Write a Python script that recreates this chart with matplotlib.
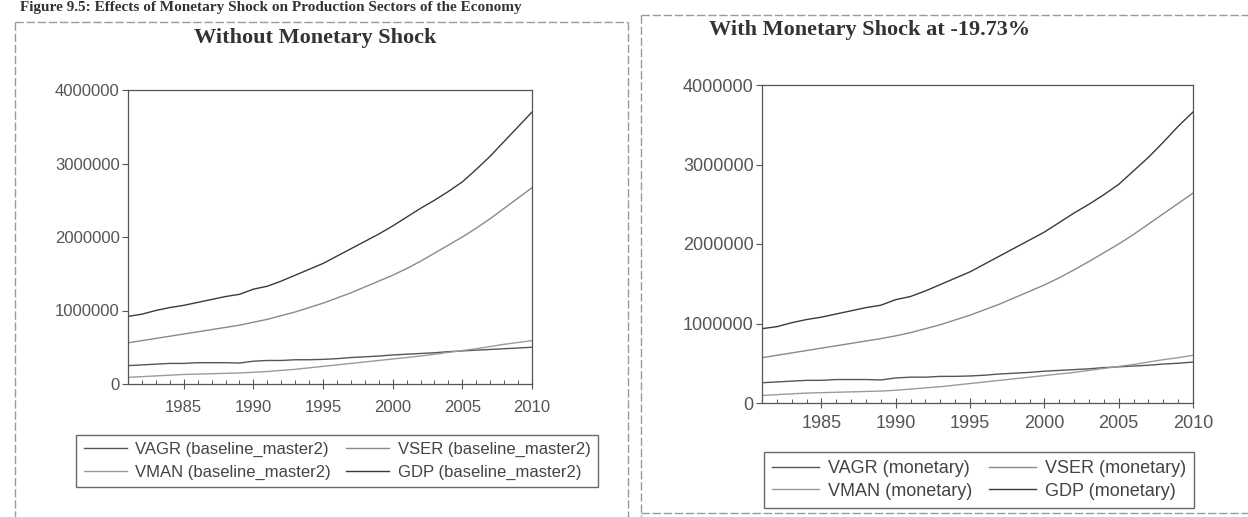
import numpy as np
import matplotlib
matplotlib.use('Agg')
import matplotlib.pyplot as plt
from matplotlib.lines import Line2D
from matplotlib.ticker import MultipleLocator

plt.rcParams['font.family'] = ['Liberation Sans', 'DejaVu Sans']

years = list(range(1981, 2011))

# baseline (without monetary shock)
vagr_base = [250000, 260000, 270000, 280000, 280000, 290000, 290000, 290000, 285000, 310000,
             320000, 320000, 330000, 330000, 335000, 345000, 360000, 370000, 380000, 395000,
             405000, 415000, 425000, 440000, 450000, 460000, 470000, 480000, 490000, 500000]
vman_base = [90000, 100000, 110000, 120000, 130000, 135000, 140000, 145000, 150000, 160000,
             170000, 185000, 200000, 220000, 240000, 260000, 280000, 300000, 320000, 340000,
             360000, 380000, 405000, 430000, 455000, 480000, 510000, 540000, 565000, 590000]
vser_base = [560000, 590000, 620000, 650000, 680000, 710000, 740000, 770000, 800000, 840000,
             880000, 930000, 980000, 1040000, 1100000, 1170000, 1240000, 1320000, 1400000, 1480000,
             1570000, 1670000, 1780000, 1890000, 2000000, 2120000, 2250000, 2390000, 2530000, 2670000]
gdp_base = [920000, 950000, 1000000, 1040000, 1070000, 1110000, 1150000, 1190000, 1220000, 1290000,
            1330000, 1400000, 1480000, 1560000, 1640000, 1740000, 1840000, 1940000, 2040000, 2150000,
            2270000, 2390000, 2500000, 2620000, 2750000, 2920000, 3100000, 3300000, 3500000, 3700000]

# with monetary shock at -19.73%
vagr_mon = [255000, 265000, 275000, 285000, 285000, 295000, 295000, 295000, 290000, 315000,
            325000, 325000, 335000, 335000, 340000, 350000, 365000, 375000, 385000, 400000,
            410000, 420000, 430000, 445000, 455000, 465000, 475000, 490000, 500000, 515000]
vman_mon = [95000, 105000, 115000, 125000, 130000, 135000, 140000, 145000, 150000, 160000,
            175000, 190000, 205000, 225000, 245000, 265000, 285000, 305000, 325000, 345000,
            365000, 385000, 410000, 435000, 460000, 485000, 515000, 545000, 570000, 600000]
vser_mon = [570000, 600000, 630000, 660000, 690000, 720000, 750000, 780000, 810000, 845000,
            885000, 935000, 985000, 1045000, 1105000, 1175000, 1245000, 1325000, 1405000, 1485000,
            1575000, 1675000, 1780000, 1890000, 2000000, 2120000, 2250000, 2380000, 2510000, 2640000]
gdp_mon = [935000, 960000, 1010000, 1050000, 1080000, 1120000, 1160000, 1200000, 1230000, 1300000,
           1340000, 1410000, 1490000, 1570000, 1650000, 1750000, 1850000, 1950000, 2050000, 2150000,
           2270000, 2390000, 2500000, 2620000, 2750000, 2920000, 3090000, 3280000, 3480000, 3660000]

series_names = ['VAGR', 'VMAN', 'VSER', 'GDP']
colors = ['#555555', '#9a9a9a', '#8a8a8a', '#3a3a3a']

W, H = 1248, 517
fig = plt.figure(figsize=(W / 100, H / 100), dpi=100)
fig.patch.set_facecolor('white')


def px_axes(x0, y0, x1, y1):
    return fig.add_axes([x0 / W, 1 - y1 / H, (x1 - x0) / W, (y1 - y0) / H])


def draw_panel(ax, data, tag, fs, xpad):
    handles = []
    for vals, name, c in zip(data, series_names, colors):
        h, = ax.plot(years, vals, color=c, lw=1.0, label='%s (%s)' % (name, tag))
        handles.append(h)
    ax.set_xlim(1981, 2010)
    ax.set_ylim(0, 4000000)
    ax.set_yticks([0, 1000000, 2000000, 3000000, 4000000])
    ax.set_yticklabels(['0', '1000000', '2000000', '3000000', '4000000'])
    ax.set_xticks([1985, 1990, 1995, 2000, 2005, 2010])
    ax.xaxis.set_minor_locator(MultipleLocator(1))
    ax.tick_params(axis='x', which='major', direction='inout', length=7, width=0.8,
                   colors='#555555', labelcolor='#555555', labelsize=fs, pad=xpad)
    ax.tick_params(axis='x', which='minor', direction='in', length=3, width=0.7, colors='#555555')
    ax.tick_params(axis='y', direction='out', length=4, width=0.8, colors='#555555',
                   labelcolor='#555555', labelsize=fs, pad=2)
    for s in ax.spines.values():
        s.set_color('#555555')
        s.set_linewidth(0.9)
    return handles


ax1 = px_axes(128, 90, 532, 384)
h1 = draw_panel(ax1, [vagr_base, vman_base, vser_base, gdp_base], 'baseline_master2', 12, 8)
ax2 = px_axes(762, 85, 1193, 403)
h2 = draw_panel(ax2, [vagr_mon, vman_mon, vser_mon, gdp_mon], 'monetary', 13, 5)

leg_kw = dict(ncol=2, loc='center', frameon=True, fancybox=False, handlelength=2.6,
              handletextpad=0.5, columnspacing=0.9, borderpad=0.45,
              labelcolor='#444444')
l1 = fig.legend(handles=h1, bbox_to_anchor=(337 / W, 1 - 461 / H), fontsize=12,
                labelspacing=0.45, **leg_kw)
l2 = fig.legend(handles=h2, bbox_to_anchor=(979 / W, 1 - 480 / H), fontsize=13,
                labelspacing=0.3, **leg_kw)
for lg in (l1, l2):
    lg.get_frame().set_edgecolor('#444444')
    lg.get_frame().set_linewidth(1.0)

title_kw = dict(family='Liberation Serif', weight='bold', color='#333333', ha='center', va='center')
fig.text(315 / W, 1 - 38 / H, 'Without Monetary Shock', fontsize=16, **title_kw)
fig.text(870 / W, 1 - 30 / H, 'With Monetary Shock at -19.73%', fontsize=16, **title_kw)

# figure caption at the top edge of the scan
fig.text(20 / W, 1 - 0.5 / H, 'Figure 9.5: Effects of Monetary Shock on Production Sectors of the Economy',
         family='Liberation Serif', weight='bold', fontsize=11, color='#333333', ha='left', va='top')

# dashed panel borders
bk = dict(color='#9a9a9a', lw=1.0, ls=(0, (6, 2)), transform=fig.transFigure)
def border(x0, y0, x1, y1):
    fig.add_artist(Line2D([x0 / W, x1 / W], [1 - y0 / H, 1 - y1 / H], **bk))

border(15, 22, 628, 22)
border(15, 22, 15, 517)
border(628, 22, 628, 517)
border(641, 15, 1248, 15)
border(641, 15, 641, 517)
border(641, 513, 1248, 513)

fig.savefig('out.png', dpi=100)
